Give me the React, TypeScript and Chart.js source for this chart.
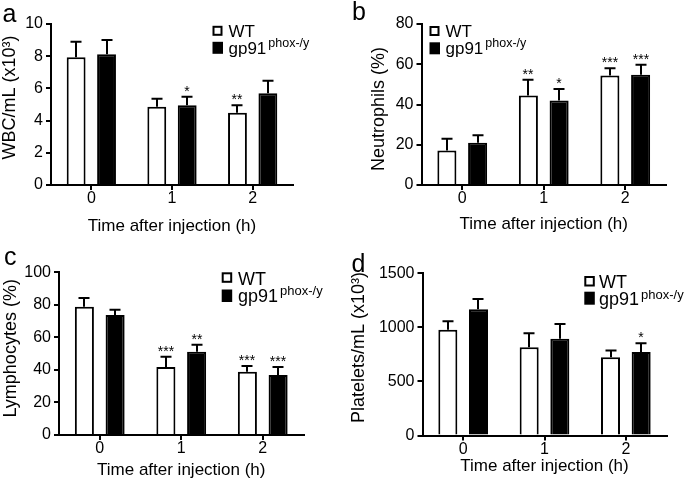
import React, { useEffect, useRef } from "react";
import { Chart, registerables } from "chart.js";

Chart.register(...registerables);

const FONT = "'Liberation Sans', Arial, Helvetica, sans-serif";

// ---------- data ----------
const categories = ["0", "1", "2"];
const seriesWT = "WT";
const seriesGP = "gp91";
const seriesGPSup = "phox-/y";
const xTitle = "Time after injection (h)";

// a: WBC/mL (x10^3)
const wbcWT = [7.93, 4.86, 4.49];
const wbcWTErr = [0.97, 0.5, 0.46];
const wbcGP = [8.12, 4.95, 5.7];
const wbcGPErr = [0.88, 0.53, 0.78];
const wbcWTSig = ["", "", "**"];
const wbcGPSig = ["", "*", ""];

// b: Neutrophils (%)
const neuWT = [17.2, 44.5, 54.4];
const neuWTErr = [5.8, 7.8, 3.6];
const neuGP = [21.0, 42.0, 54.8];
const neuGPErr = [3.7, 5.7, 4.9];
const neuWTSig = ["", "**", "***"];
const neuGPSig = ["", "*", "***"];

// c: Lymphocytes (%)
const lymWT = [78.9, 41.8, 38.9];
const lymWTErr = [5.3, 6.3, 3.5];
const lymGP = [73.8, 51.2, 36.9];
const lymGPErr = [3.2, 4.3, 4.9];
const lymWTSig = ["", "***", "***"];
const lymGPSig = ["", "**", "***"];

// d: Platelets/mL (x10^3)
const pltWT = [977, 817, 724];
const pltWTErr = [80, 129, 62];
const pltGP = [1168, 894, 773];
const pltGPErr = [95, 138, 81];
const pltWTSig = ["", "", ""];
const pltGPSig = ["", "", "*"];

// ---------- layout ----------
type Spec = any;

const panels: Spec[] = [
  {
    key: "a",
    box: { left: 0, top: 0, width: 342, height: 243 },
    area: { left: 51, top: 24, right: 293, bottom: 185 },
    yMax: 10, yStep: 2,
    wt: wbcWT, wtErr: wbcWTErr, gp: wbcGP, gpErr: wbcGPErr, wtSig: wbcWTSig, gpSig: wbcGPSig,
    yTitle: "WBC/mL (x10³)", yTitleAt: [10.5, 97.5], xTitleY: 226.5,
    letter: "a", letterAt: [2.5, 21.5],
    legend: { x: 212.5, y1: 25.8, y2: 41.8, tx: 228.5, b1: 37, b2: 53.5, fs: 17, sup: 12.5, w1: 10, h1: 10, w2: 10.5, h2: 12 },
  },
  {
    key: "b",
    box: { left: 342, top: 0, width: 343, height: 243 },
    area: { left: 421.5, top: 24, right: 666, bottom: 185 },
    yMax: 80, yStep: 20,
    wt: neuWT, wtErr: neuWTErr, gp: neuGP, gpErr: neuGPErr, wtSig: neuWTSig, gpSig: neuGPSig,
    yTitle: "Neutrophils (%)", yTitleAt: [379.5, 109], xTitleY: 224,
    letter: "b", letterAt: [352, 19.5],
    legend: { x: 429.5, y1: 26, y2: 42.3, tx: 445.5, b1: 37, b2: 53.5, fs: 17, sup: 12.5, w1: 10, h1: 10, w2: 10.5, h2: 12 },
  },
  {
    key: "c",
    box: { left: 0, top: 243, width: 342, height: 244 },
    area: { left: 59, top: 272.3, right: 303.5, bottom: 435 },
    yMax: 100, yStep: 20,
    wt: lymWT, wtErr: lymWTErr, gp: lymGP, gpErr: lymGPErr, wtSig: lymWTSig, gpSig: lymGPSig,
    yTitle: "Lymphocytes (%)", yTitleAt: [11, 348.3], xTitleY: 470.3,
    letter: "c", letterAt: [4, 265],
    legend: { x: 221.7, y1: 272.3, y2: 289.5, tx: 238, b1: 285, b2: 301.7, fs: 18, sup: 13, w1: 10.5, h1: 10.5, w2: 10.5, h2: 12.5 },
  },
  {
    key: "d",
    box: { left: 342, top: 243, width: 343, height: 244 },
    area: { left: 422.5, top: 273.3, right: 666.5, bottom: 435.5 },
    yMax: 1500, yStep: 500,
    wt: pltWT, wtErr: pltWTErr, gp: pltGP, gpErr: pltGPErr, wtSig: pltWTSig, gpSig: pltGPSig,
    yTitle: "Platelets/mL (x10³)", yTitleAt: [358.8, 347.5], xTitleY: 466.7,
    letter: "d", letterAt: [351.5, 271.5],
    legend: { x: 584.3, y1: 276, y2: 291.7, tx: 599, b1: 287.7, b2: 305, fs: 18, sup: 13, w1: 10.5, h1: 10.5, w2: 10.5, h2: 13 },
  },
];

function makeDecor(spec: Spec) {
  const ox = spec.box.left;
  const oy = spec.box.top;
  const errs = [spec.wtErr, spec.gpErr];
  const sigs = [spec.wtSig, spec.gpSig];
  return {
    id: "decor_" + spec.key,
    afterDatasetsDraw(chart: any) {
      const ctx = chart.ctx;
      const ys = chart.scales.y;
      ctx.save();
      chart.data.datasets.forEach((ds: any, di: number) => {
        const meta = chart.getDatasetMeta(di);
        meta.data.forEach((el: any, i: number) => {
          const v = ds.data[i] as number;
          const top = ys.getPixelForValue(v + errs[di][i]);
          const x = Math.round(el.x);
          ctx.strokeStyle = "#000";
          ctx.lineWidth = 2;
          ctx.beginPath();
          ctx.moveTo(x, el.y);
          ctx.lineTo(x, top - 1);
          ctx.moveTo(x - 5.5, top);
          ctx.lineTo(x + 5.5, top);
          ctx.stroke();
          if (sigs[di][i]) {
            ctx.fillStyle = "#000";
            ctx.font = `14px ${FONT}`;
            ctx.textAlign = "center";
            ctx.textBaseline = "alphabetic";
            ctx.fillText(sigs[di][i], x, top - 1);
          }
        });
      });
      ctx.restore();
    },
    afterDraw(chart: any) {
      const ctx = chart.ctx;
      ctx.save();
      ctx.fillStyle = "#000";
      ctx.strokeStyle = "#000";
      // panel letter
      ctx.font = `25px ${FONT}`;
      ctx.textAlign = "left";
      ctx.textBaseline = "alphabetic";
      ctx.fillText(spec.letter, spec.letterAt[0] - ox, spec.letterAt[1] - oy);
      // y title
      ctx.save();
      ctx.translate(spec.yTitleAt[0] - ox, spec.yTitleAt[1] - oy);
      ctx.rotate(-Math.PI / 2);
      ctx.font = `18px ${FONT}`;
      ctx.textAlign = "center";
      ctx.textBaseline = "middle";
      ctx.fillText(spec.yTitle, 0, 0);
      ctx.restore();
      // legend
      const L = spec.legend;
      ctx.lineWidth = 2;
      ctx.fillStyle = "#fff";
      ctx.fillRect(L.x - ox, L.y1 - oy, L.w1, L.h1);
      ctx.strokeRect(L.x - ox + 1, L.y1 - oy + 1, L.w1 - 2, L.h1 - 2);
      ctx.fillStyle = "#000";
      ctx.fillRect(L.x - ox, L.y2 - oy, L.w2, L.h2);
      ctx.textAlign = "left";
      ctx.textBaseline = "alphabetic";
      ctx.font = `${L.fs}px ${FONT}`;
      ctx.fillText(seriesWT, L.tx - ox, L.b1 - oy);
      ctx.fillText(seriesGP, L.tx - ox, L.b2 - oy);
      const gpW = ctx.measureText(seriesGP).width;
      ctx.font = `${L.sup}px ${FONT}`;
      const supBase = L.b2 - 0.716 * L.fs - 3 + 0.73 * L.sup;
      ctx.fillText(seriesGPSup, L.tx - ox + gpW + 2, supBase - oy);
      ctx.restore();
    },
  };
}

function buildConfig(spec: Spec): any {
  const { box, area } = spec;
  const tickFont = { family: FONT, size: 16 };
  const grid = {
    offset: false,
    drawOnChartArea: false,
    drawTicks: true,
    tickLength: 5,
    color: "#000",
    lineWidth: 2,
  };
  const border = { display: true, color: "#000", width: 2 };
  const titleLH = 17 * 1.2;
  return {
    type: "bar",
    data: {
      labels: categories,
      datasets: [
        {
          label: seriesWT,
          data: spec.wt,
          backgroundColor: "#ffffff",
          borderColor: "#000000",
          borderWidth: 2,
          categoryPercentage: 0.754,
          barPercentage: 0.62,
        },
        {
          label: seriesGP + seriesGPSup,
          data: spec.gp,
          backgroundColor: "#000000",
          borderColor: "#000000",
          borderWidth: 2,
          categoryPercentage: 0.754,
          barPercentage: 0.62,
        },
      ],
    },
    options: {
      responsive: false,
      maintainAspectRatio: false,
      animation: false,
      devicePixelRatio: 1,
      layout: {
        padding: {
          left: 0,
          top: area.top - box.top,
          right: box.left + box.width - area.right,
          bottom: 0,
        },
      },
      plugins: {
        legend: { display: false },
        tooltip: { enabled: false },
        title: { display: false },
      },
      scales: {
        x: {
          grid,
          border,
          ticks: { font: tickFont, color: "#000", padding: -1, maxRotation: 0, autoSkip: false },
          title: {
            display: true,
            text: xTitle,
            color: "#000",
            font: { family: FONT, size: 17 },
            padding: { top: 0, bottom: box.top + box.height - spec.xTitleY - titleLH / 2 },
          },
          afterFit: (s: any) => {
            s.height = box.top + box.height - area.bottom;
          },
        },
        y: {
          min: 0,
          max: spec.yMax,
          grid,
          border,
          ticks: {
            font: tickFont,
            color: "#000",
            padding: 3,
            stepSize: spec.yStep,
            callback: (v: any) => String(v),
          },
          afterFit: (s: any) => {
            s.width = area.left - box.left;
          },
        },
      },
    },
    plugins: [makeDecor(spec)],
  };
}

function Panel({ spec }: { spec: Spec }) {
  const ref = useRef<HTMLCanvasElement>(null);
  useEffect(() => {
    if (!ref.current) return;
    const chart = new Chart(ref.current, buildConfig(spec));
    return () => chart.destroy();
  }, [spec]);
  return (
    <canvas
      ref={ref}
      width={spec.box.width}
      height={spec.box.height}
      style={{
        position: "absolute",
        left: spec.box.left,
        top: spec.box.top,
        width: spec.box.width,
        height: spec.box.height,
        display: "block",
      }}
    />
  );
}

export default function App() {
  return (
    <div
      style={{
        position: "absolute",
        left: 0,
        top: 0,
        width: 685,
        height: 487,
        background: "#fff",
        overflow: "hidden",
      }}
    >
      {panels.map((p) => (
        <Panel key={p.key} spec={p} />
      ))}
    </div>
  );
}
